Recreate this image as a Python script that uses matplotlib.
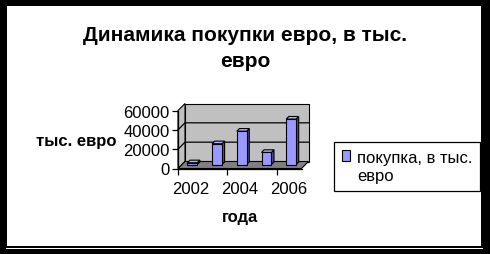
import matplotlib
matplotlib.use("Agg")
import matplotlib.pyplot as plt
import matplotlib.transforms as mtrans
from matplotlib.patches import Polygon, Rectangle
from matplotlib.lines import Line2D
from matplotlib.legend_handler import HandlerPatch
import numpy as np

plt.rcParams['font.family'] = ['Liberation Sans', 'DejaVu Sans']

years = ['2002', '2003', '2004', '2005', '2006']
purchases = [1800, 21500, 34500, 12500, 47000]
yticks = [0, 20000, 40000, 60000]
title = "Динамика покупки евро, в тыс.\nевро"
series_label = "покупка, в тыс.\nевро"
xlabel = "года"
ylabel = "тыс. евро"

W, H, DPI = 490, 255, 100
fig = plt.figure(figsize=(W / DPI, H / DPI), dpi=DPI, facecolor='black')

# white page with black frame
fig.patches.append(Rectangle((7 / W, 1 - 247 / H), (481 - 7) / W, (247 - 7) / H,
                             transform=fig.transFigure, facecolor='white',
                             edgecolor='none', zorder=-5))
fig.patches.append(Rectangle((6 / W, 1 - 250 / H), (483 - 6) / W, 1 / H,
                             transform=fig.transFigure, facecolor='white',
                             edgecolor='none', zorder=-5))

# front plane of the plot
x0, x1 = 178, 301.5
yb, yt = 169.5, 111.5
ax = fig.add_axes([x0 / W, 1 - yb / H, (x1 - x0) / W, (yb - yt) / H])
ax.set_facecolor('none')
ax.set_xlim(-0.5, len(years) - 0.5)
ax.set_ylim(0, 60000)

fig.canvas.draw()
T = ax.transData
ID = mtrans.IdentityTransform()

def disp(x, y, dx=0.0, dy=0.0):
    p = T.transform((x, y))
    return (p[0] + dx, p[1] + dy)

DX, DY = 7, 7       # depth offset of the back wall (pixels)
xl, xr = -0.5, len(years) - 0.5
top = 60000
grey = '#c0c0c0'

def poly(pts, fc, z, lw=0.8):
    p = Polygon(pts, closed=True, facecolor=fc, edgecolor='black', lw=lw,
                transform=ID, zorder=z, clip_on=False)
    ax.add_patch(p)

# back wall
poly([disp(xl, 0, DX, DY), disp(xr, 0, DX, DY), disp(xr, top, DX, DY), disp(xl, top, DX, DY)], grey, 0.5)
# side wall
poly([disp(xl, 0), disp(xl, 0, DX, DY), disp(xl, top, DX, DY), disp(xl, top)], grey, 0.5)
# floor
poly([disp(xl, 0), disp(xr, 0), disp(xr, 0, DX, DY), disp(xl, 0, DX, DY)], '#808080', 0.6)

for v in yticks[1:-1]:
    a = disp(xl, v); b = disp(xl, v, DX, DY); c = disp(xr, v, DX, DY)
    ax.add_line(Line2D([a[0], b[0], c[0]], [a[1], b[1], c[1]], color='black',
                       lw=0.9, transform=ID, zorder=0.7, clip_on=False))

# bars
bw = 0.4
FX, FY = 2.0, 4.0    # front face offset
BX, BY = 2.6, 2.6    # bar depth
face, side, topc = '#9999ff', '#4d4d99', '#b3b3ff'
xs = np.arange(len(years))
off = mtrans.ScaledTranslation(FX / DPI, FY / DPI, fig.dpi_scale_trans)
bars = ax.bar(xs, purchases, width=bw, color=face, edgecolor='black', lw=0.8,
              transform=ax.transData + off, zorder=5, label=series_label, clip_on=False)
for x, v in zip(xs, purchases):
    l, r = x - bw / 2, x + bw / 2
    poly([disp(r, 0, FX, FY), disp(r, 0, FX + BX, FY + BY), disp(r, v, FX + BX, FY + BY), disp(r, v, FX, FY)], side, 4)
    poly([disp(l, v, FX, FY), disp(r, v, FX, FY), disp(r, v, FX + BX, FY + BY), disp(l, v, FX + BX, FY + BY)], topc, 4)

# axes styling
for s in ['top', 'right']:
    ax.spines[s].set_visible(False)
for s in ['left', 'bottom']:
    ax.spines[s].set_color('black')
    ax.spines[s].set_linewidth(0.9)
    ax.spines[s].set_zorder(3)
ax.set_yticks(yticks)
ax.set_yticklabels([str(t) for t in yticks])
ax.set_xticks(xs[::2])
ax.set_xticklabels(years[::2])
ax.set_xticks(np.arange(-0.5, len(years), 2), minor=True)
ax.tick_params(axis='x', which='major', length=0, pad=9, labelsize=12)
ax.tick_params(axis='x', which='minor', length=4, width=0.9, direction='out')
ax.tick_params(axis='y', length=4, width=0.9, direction='out', pad=2, labelsize=12)

fig.text(245 / W, 1 - 48.5 / H, title, ha='center', va='center', fontsize=15,
         fontweight='bold', linespacing=1.45)
fig.text(76 / W, 1 - 141.5 / H, ylabel, ha='center', va='center', fontsize=12, fontweight='bold')
fig.text(240 / W, 1 - 218 / H, xlabel, ha='center', va='center', fontsize=12, fontweight='bold')

def square_key(legend, orig_handle, xdescent, ydescent, width, height, fontsize):
    return Rectangle((-xdescent, -ydescent), width, width)

leg = fig.legend(handles=[bars], labels=[series_label], loc='upper left',
                 bbox_to_anchor=(334 / W, 1 - 143 / H), fontsize=12,
                 frameon=True, fancybox=False, edgecolor='black', framealpha=1,
                 handlelength=0.5, handleheight=0.68, handletextpad=0.45,
                 borderpad=0.45, borderaxespad=0,
                 handler_map={type(bars.patches[0]): HandlerPatch(patch_func=square_key)})
leg.get_frame().set_linewidth(0.9)
leg.get_texts()[0].set_linespacing(1.3)
# put the colour key next to the first line of the label
try:
    for col in leg._legend_handle_box.get_children():
        for row in col.get_children():
            row.align = 'top'
except Exception:
    pass

fig.savefig('out.png', dpi=DPI, facecolor=fig.get_facecolor())
